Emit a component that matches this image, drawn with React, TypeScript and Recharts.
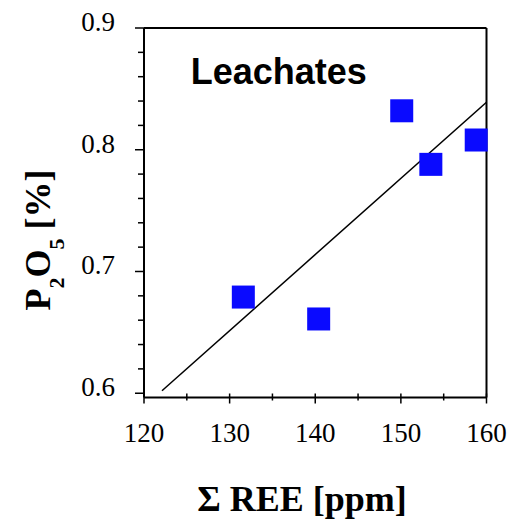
import React from "react";
import {
  ReferenceLine,
  Scatter,
  ScatterChart,
  XAxis,
  YAxis,
} from "recharts";

// measured points (Σ REE ppm vs P2O5 %)
const reeValues = [131.6, 140.4, 150.1, 153.5, 158.8];
const p2o5Values = [0.679, 0.661, 0.832, 0.788, 0.808];

// regression line end points
const trendStart = { x: 122.1, y: 0.602 };
const trendEnd = { x: 160, y: 0.839 };

const xTicks = [120, 125, 130, 135, 140, 145, 150, 155, 160];
const yTicks = [
  0.6, 0.62, 0.64, 0.66, 0.68, 0.7, 0.72, 0.74, 0.76, 0.78, 0.8, 0.82, 0.84,
  0.86, 0.88, 0.9,
];

const points = reeValues.map((x, i) => ({ x, y: p2o5Values[i] }));

const serif = "'Liberation Serif', 'Times New Roman', serif";
const sans = "'Liberation Sans', Arial, sans-serif";

function XTick(props: any) {
  const { x, y, payload } = props;
  const v = payload.value as number;
  const major = v % 10 === 0;
  return (
    <g>
      <line
        x1={x}
        x2={x}
        y1={y - 4}
        y2={y + (major ? 6 : 3)}
        stroke="#000"
        strokeWidth={1.5}
      />
      {major && (
        <text
          x={x}
          y={y + 44}
          textAnchor="middle"
          fontFamily={serif}
          fontSize={27}
          fill="#000"
        >
          {v}
        </text>
      )}
    </g>
  );
}

function YTick(props: any) {
  const { x, y, payload } = props;
  const v = payload.value as number;
  const major = Math.abs(v * 10 - Math.round(v * 10)) < 1e-6;
  return (
    <g>
      <line
        x1={x - (major ? 9 : 6)}
        x2={x}
        y1={y}
        y2={y}
        stroke="#000"
        strokeWidth={1.5}
      />
      {major && (
        <text
          x={x - 29}
          y={y + 3}
          textAnchor="end"
          fontFamily={serif}
          fontSize={27}
          fill="#000"
        >
          {v.toFixed(1)}
        </text>
      )}
    </g>
  );
}

function Square(props: any) {
  const { cx, cy } = props;
  const s = 23;
  return <rect x={cx - s / 2} y={cy - s / 2} width={s} height={s} fill="#0a0aff" />;
}

export default function App() {
  return (
    <div style={{ position: "absolute", left: 0, top: 0, width: 523, height: 525, background: "#fff" }}>
      <ScatterChart
        width={523}
        height={525}
        margin={{ top: 28, right: 36.5, bottom: 67.5, left: 0 }}
      >
        <XAxis
          type="number"
          dataKey="x"
          domain={[120, 160]}
          ticks={xTicks}
          interval={0}
          tickLine={false}
          tickSize={0}
          tickMargin={0}
          height={60}
          axisLine={{ stroke: "#000", strokeWidth: 2 }}
          tick={<XTick />}
        />
        <YAxis
          type="number"
          dataKey="y"
          domain={[0.5965, 0.9]}
          allowDataOverflow
          ticks={yTicks}
          interval={0}
          tickLine={false}
          tickSize={0}
          tickMargin={0}
          width={144}
          axisLine={{ stroke: "#000", strokeWidth: 2 }}
          tick={<YTick />}
        />
        <ReferenceLine y={0.9} stroke="#000" strokeWidth={2} />
        <ReferenceLine x={160} stroke="#000" strokeWidth={2} />
        <ReferenceLine
          segment={[trendStart, trendEnd]}
          stroke="#000"
          strokeWidth={1.5}
        />
        <Scatter data={points} shape={<Square />} isAnimationActive={false} />
      </ScatterChart>
      <svg
        width={523}
        height={525}
        style={{ position: "absolute", left: 0, top: 0, pointerEvents: "none" }}
      >
        <text x={190.7} y={84} fontFamily={sans} fontWeight="bold" fontSize={36} fill="#000">
          Leachates
        </text>
        <text
          x={302}
          y={511}
          textAnchor="middle"
          fontFamily={serif}
          fontWeight="bold"
          fontSize={36}
          fill="#000"
        >
          Σ REE [ppm]
        </text>
        <text
          x={50}
          y={240}
          textAnchor="middle"
          transform="rotate(-90, 50, 240)"
          fontFamily={serif}
          fontWeight="bold"
          fontSize={36}
          fill="#000"
        >
          P
          <tspan fontSize={22} dy={14}>2</tspan>
          <tspan dy={-14}>O</tspan>
          <tspan fontSize={22} dy={14}>5</tspan>
          <tspan dy={-14}> [%]</tspan>
        </text>
      </svg>
    </div>
  );
}
